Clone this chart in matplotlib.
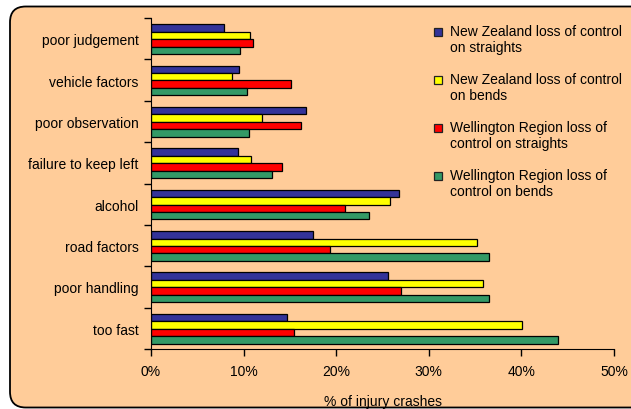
import matplotlib.pyplot as plt
from matplotlib.patches import FancyBboxPatch, Rectangle
import numpy as np

plt.rcParams['font.family'] = ['Liberation Sans', 'DejaVu Sans']

# categorias de abajo hacia arriba
categorias = ['too fast', 'poor handling', 'road factors', 'alcohol',
              'failure to keep left', 'poor observation', 'vehicle factors',
              'poor judgement']

nz_rectas = [14.7, 25.6, 17.5, 26.8, 9.4, 16.7, 9.5, 7.9]
nz_curvas = [40.1, 35.9, 35.2, 25.8, 10.8, 12.0, 8.7, 10.7]
wel_rectas = [15.4, 27.0, 19.3, 21.0, 14.2, 16.2, 15.1, 11.05]
wel_curvas = [43.95, 36.5, 36.5, 23.5, 13.1, 10.6, 10.4, 9.6]

series = [nz_rectas, nz_curvas, wel_rectas, wel_curvas]
nombres = ['New Zealand loss of control\non straights',
           'New Zealand loss of control\non bends',
           'Wellington Region loss of\ncontrol on straights',
           'Wellington Region loss of\ncontrol on bends']
colores = ['#333399', '#FFFF00', '#FF0000', '#339966']
xticks = [0, 10, 20, 30, 40, 50]

fondo = '#FFCC99'
W, H = 631, 410
fig = plt.figure(figsize=(W / 100, H / 100), dpi=100, facecolor='white')

# recuadro redondeado de fondo
caja = FancyBboxPatch((10 / W, 1.5 / H), 700 / W, 401 / H,
                      boxstyle='round,pad=0,rounding_size=0.025',
                      transform=fig.transFigure, facecolor=fondo,
                      edgecolor='black', linewidth=1.3, mutation_aspect=W / H,
                      zorder=-5)
fig.patches.append(caja)

ax = fig.add_axes([151 / W, (H - 350) / H, (614 - 151) / W, (350 - 19) / H])
ax.set_facecolor('none')
ax.set_zorder(2)

y = np.arange(len(categorias))
h = 0.18
for k, (vals, col) in enumerate(zip(series, colores)):
    off = (1.5 - k) * h - 0.01
    ax.barh(y + off, vals, height=h, color=col, edgecolor='black',
            linewidth=0.9)

ax.set_xlim(0, 50)
ax.set_ylim(-0.5, len(categorias) - 0.5)
ax.set_xticks(xticks)
ax.set_xticklabels([f'{v}%' for v in xticks], fontsize=10)
ax.set_yticks(y)
ax.set_yticklabels(categorias, fontsize=10)
ax.set_yticks(np.arange(len(categorias) + 1) - 0.5, minor=True)
ax.tick_params(axis='y', which='major', length=0, pad=9)
ax.tick_params(axis='y', which='minor', length=5, width=1)
ax.tick_params(axis='x', length=5, width=1, pad=6)
for s in ['top', 'right']:
    ax.spines[s].set_visible(False)
ax.set_xlabel('% of injury crashes', fontsize=10, labelpad=11)

# leyenda manual
for i, (nom, col) in enumerate(zip(nombres, colores)):
    yc = H - (33 + 48 * i)
    fig.patches.append(Rectangle((434 / W, (yc - 4) / H), 8 / W, 8 / H,
                                 transform=fig.transFigure, facecolor=col,
                                 edgecolor='#222222', linewidth=0.9))
    fig.text(450 / W, (yc + 8) / H, nom, fontsize=10, va='top', ha='left',
             linespacing=1.15)

fig.savefig('out.png', dpi=100, facecolor='white')
